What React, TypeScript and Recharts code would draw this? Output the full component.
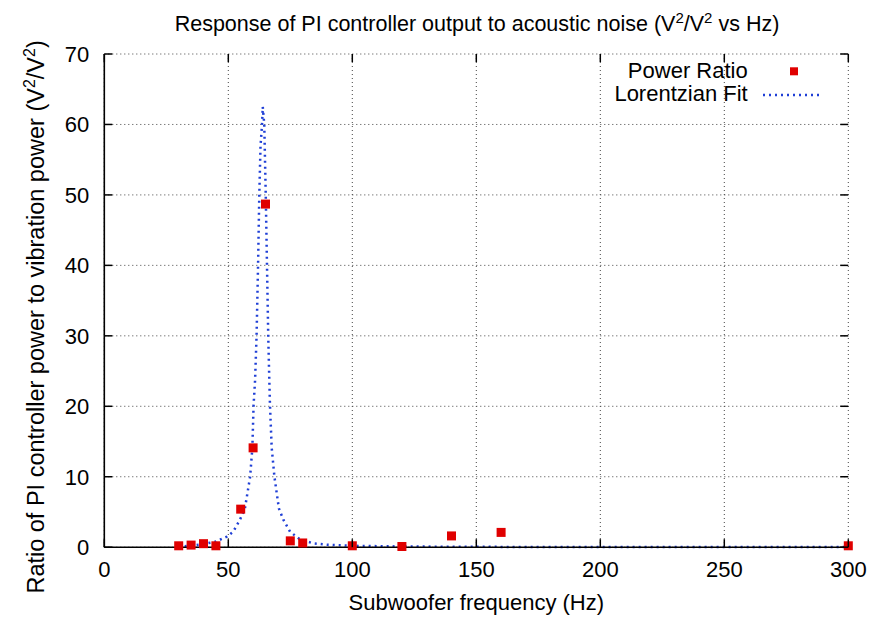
import {
  ComposedChart,
  Line,
  Scatter,
  XAxis,
  YAxis,
  CartesianGrid,
  Legend
} from "recharts";

// measured points (Hz, ratio)
const freqs = [30, 35, 40, 45, 55, 60, 65, 75, 80, 100, 120, 140, 160, 300];
const ratios = [0.2, 0.3, 0.5, 0.2, 5.4, 14.1, 48.7, 0.9, 0.6, 0.2, 0.1, 1.6, 2.1, 0.2];

// Lorentzian fit curve
const fitFreqs = [
  30, 35, 40, 45, 49.4, 52, 54.7, 56.7, 58.8, 59.7, 60.2, 60.8, 61.4, 62.0, 62.5, 63.0, 63.6, 63.9,
  64.5, 65.1, 65.6, 66.1, 66.5, 66.8, 67.5, 68.6, 70.4, 72.2, 74.9, 78.9, 84.3, 90, 100, 120, 150, 200, 300
];
const fitValues = [
  0.1, 0.2, 0.45, 0.8, 1.5, 2.2, 3.9, 5.5, 10, 14.1, 20.2, 23.7, 30, 40, 50, 57, 60, 62.5,
  60, 50, 40, 30, 24.2, 20.2, 14.1, 10, 5.5, 3.9, 2.2, 1.1, 0.55, 0.35, 0.2, 0.1, 0.05, 0.03, 0.02
];

const xTicks = [0, 50, 100, 150, 200, 250, 300];
const yTicks = [0, 10, 20, 30, 40, 50, 60, 70];

const points = freqs.map((f, i) => ({ x: f, y: ratios[i] }));
const fit = fitFreqs.map((f, i) => ({ x: f, fit: fitValues[i] }));

const W = 874;
const H = 617;
const M = { top: 54, right: 25.7, bottom: 69.8, left: 104.3 };
const PLOT_H = H - M.top - M.bottom;
const PLOT_W = W - M.left - M.right;
const FONT = "'Liberation Sans', Arial, sans-serif";
const RED = "#e00000";
const BLUE = "#1f3fd6";
const frame = { stroke: "#000", strokeWidth: 1.6 };

const XTick = (props: any) => {
  const { x, y, payload } = props;
  return (
    <g>
      <line x1={x} y1={y} x2={x} y2={y - 8} stroke="#000" strokeWidth={1.5} />
      <line x1={x} y1={y - PLOT_H} x2={x} y2={y - PLOT_H + 8} stroke="#000" strokeWidth={1.5} />
      <text x={x} y={y + 30} textAnchor="middle" fontSize={22} fontFamily={FONT} fill="#000">
        {payload.value}
      </text>
    </g>
  );
};

const YTick = (props: any) => {
  const { x, y, payload } = props;
  return (
    <g>
      <line x1={x} y1={y} x2={x + 8} y2={y} stroke="#000" strokeWidth={1.5} />
      <line x1={x + PLOT_W} y1={y} x2={x + PLOT_W - 8} y2={y} stroke="#000" strokeWidth={1.5} />
      <text x={x - 15} y={y + 8} textAnchor="end" fontSize={22} fontFamily={FONT} fill="#000">
        {payload.value}
      </text>
    </g>
  );
};

const Square = (props: any) => {
  const { cx, cy } = props;
  return <rect x={cx - 4.5} y={cy - 4.5} width={9} height={9} fill={RED} />;
};

const LegendBox = () => (
  <div style={{ fontFamily: FONT, fontSize: 22, color: "#000", lineHeight: "22.6px" }}>
    <div style={{ display: "flex", alignItems: "center", justifyContent: "flex-end" }}>
      <span>Power Ratio</span>
      <svg width={75} height={22.6}>
        <rect x={42} y={7.3} width={8} height={8} fill={RED} />
      </svg>
    </div>
    <div style={{ display: "flex", alignItems: "center", justifyContent: "flex-end" }}>
      <span>Lorentzian Fit</span>
      <svg width={75} height={22.6}>
        <line x1={15} y1={12} x2={73} y2={12} stroke={BLUE} strokeWidth={2.5} strokeDasharray="2 4" />
      </svg>
    </div>
  </div>
);

export default function App() {
  return (
    <div style={{ position: "absolute", left: 0, top: 0, width: W, height: H, background: "#fff" }}>
      <ComposedChart width={W} height={H} margin={{ top: M.top, right: M.right, bottom: 0, left: 0 }}>
        <CartesianGrid stroke="#444" strokeDasharray="1 3" />
        <XAxis
          type="number"
          dataKey="x"
          domain={[0, 300]}
          ticks={xTicks}
          height={M.bottom}
          tickLine={false}
          axisLine={frame}
          tickSize={0}
          tickMargin={0}
          tick={<XTick />}
          interval={0}
        />
        <XAxis
          xAxisId="top"
          orientation="top"
          type="number"
          domain={[0, 300]}
          height={0}
          tick={false}
          tickLine={false}
          axisLine={frame}
        />
        <YAxis
          type="number"
          domain={[0, 70]}
          ticks={yTicks}
          width={M.left}
          tickLine={false}
          axisLine={frame}
          tickSize={0}
          tickMargin={0}
          tick={<YTick />}
          interval={0}
        />
        <YAxis
          yAxisId="right"
          orientation="right"
          type="number"
          domain={[0, 70]}
          width={0}
          tick={false}
          tickLine={false}
          axisLine={frame}
        />
        <Line
          data={fit}
          dataKey="fit"
          type="linear"
          stroke={BLUE}
          strokeWidth={2.5}
          strokeDasharray="2 4"
          dot={false}
          isAnimationActive={false}
        />
        <Scatter data={points} dataKey="y" shape={<Square />} isAnimationActive={false} />
        <Legend
          layout="horizontal"
          verticalAlign="middle"
          align="center"
          content={<LegendBox />}
          wrapperStyle={{ left: 577.7, top: 60.4, width: 245, height: 46 }}
        />
      </ComposedChart>
      <div
        style={{
          position: "absolute",
          left: 77,
          width: 800,
          top: 5,
          textAlign: "center",
          fontFamily: FONT,
          fontSize: 21.5,
          lineHeight: "26px",
          whiteSpace: "nowrap"
        }}
      >
        Response of PI controller output to acoustic noise (V<sup style={{ fontSize: 15 }}>2</sup>/V
        <sup style={{ fontSize: 15 }}>2</sup> vs Hz)
      </div>
      <div
        style={{
          position: "absolute",
          left: M.left,
          width: PLOT_W,
          top: 590,
          textAlign: "center",
          fontFamily: FONT,
          fontSize: 22,
          lineHeight: "26px"
        }}
      >
        Subwoofer frequency (Hz)
      </div>
      <div
        style={{
          position: "absolute",
          left: 33 - 300,
          top: 314 - 14,
          width: 600,
          textAlign: "center",
          transform: "rotate(-90deg)",
          fontFamily: FONT,
          fontSize: 23.5,
          lineHeight: "28px",
          whiteSpace: "nowrap"
        }}
      >
        Ratio of PI controller power to vibration power (V<sup style={{ fontSize: 16 }}>2</sup>/V
        <sup style={{ fontSize: 16 }}>2</sup>)
      </div>
    </div>
  );
}
